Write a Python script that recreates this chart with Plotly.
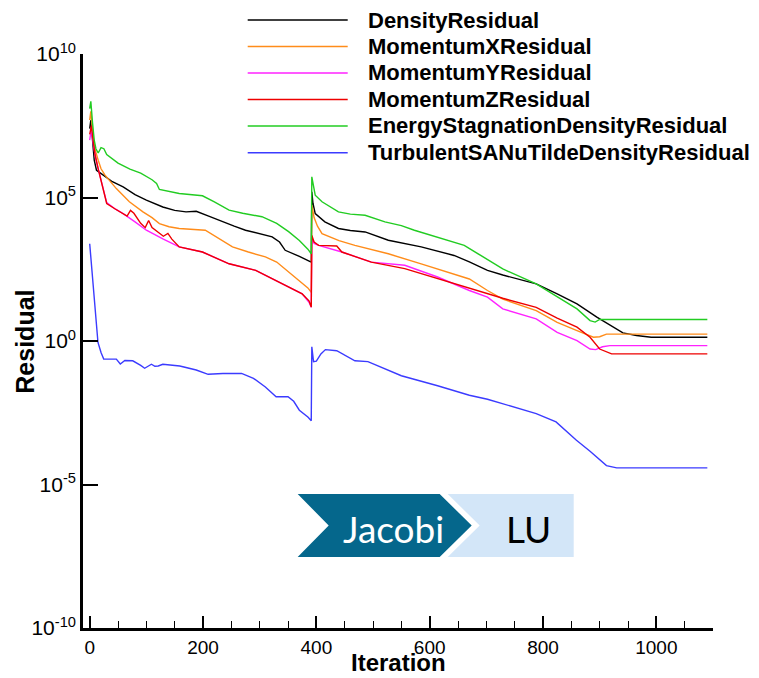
import plotly.graph_objects as go

# ---------------- data (iteration, log10 residual) ----------------
series_names = ["DensityResidual", "MomentumXResidual", "MomentumYResidual",
                "MomentumZResidual", "EnergyStagnationDensityResidual",
                "TurbulentSANuTildeDensityResidual"]
series_colors = ["#000000", "#ff8c1a", "#ff22ff", "#ee0000", "#22cc22", "#3b3bff"]

iter_density = [0, 2, 5, 8, 12, 18, 24, 40, 59, 80, 100, 129, 150, 170, 188, 210, 234, 255, 275, 300,
                322, 335, 345, 370, 391, 392, 394, 398, 415, 439, 460, 486, 527, 585, 643, 670, 702,
                729, 788, 825, 860, 895, 918, 941, 965, 991, 1090]
log_density = [7.4, 7.70, 7.0, 6.3, 5.95, 5.85, 5.78, 5.55, 5.37, 5.1, 4.91, 4.67, 4.55, 4.50, 4.52, 4.35,
               4.15, 4.0, 3.86, 3.75, 3.63, 3.45, 3.16, 2.95, 2.75, 5.20, 4.8, 4.44, 4.15, 3.92, 3.85,
               3.80, 3.51, 3.28, 2.98, 2.76, 2.46, 2.30, 1.99, 1.64, 1.29, 0.83, 0.54, 0.28, 0.19, 0.13, 0.13]

iter_momx = [0, 2, 5, 9, 15, 20, 27, 47, 70, 94, 110, 123, 140, 158, 204, 225, 252, 280, 310, 330, 351,
             370, 385, 391, 392, 396, 402, 410, 440, 468, 527, 585, 643, 670, 702, 729, 788, 825, 860,
             889, 900, 912, 1090]
log_momx = [7.7, 8.0, 7.3, 6.7, 6.30, 6.0, 5.78, 5.31, 4.85, 4.50, 4.3, 4.09, 3.98, 3.92, 3.86, 3.6,
            3.28, 3.1, 2.93, 2.75, 2.40, 2.1, 1.85, 1.70, 4.73, 4.3, 4.0, 3.74, 3.5, 3.33, 3.04, 2.69,
            2.34, 2.16, 1.76, 1.46, 1.06, 0.65, 0.36, 0.13, 0.15, 0.24, 0.24]

iter_momy = [0, 3, 6, 9.5, 15, 21, 30, 45, 59, 80, 100, 130, 158, 199, 246, 293, 340, 375, 387, 391,
             392, 396, 404, 445, 497, 556, 614, 670, 702, 729, 788, 825, 860, 883, 893, 905, 918, 1090]
log_momy = [7.0, 7.4, 6.9, 6.48, 6.0, 5.55, 4.82, 4.6, 4.44, 4.15, 3.86, 3.55, 3.28, 3.10, 2.69, 2.46,
            1.99, 1.64, 1.35, 1.18, 3.6, 3.4, 3.33, 3.10, 2.75, 2.64, 2.23, 1.76, 1.53, 1.12, 0.77,
            0.30, 0.01, -0.28, -0.30, -0.20, -0.16, -0.16]

iter_momz = [0, 3, 6, 9.5, 15, 21, 30, 45, 59, 66, 72, 78, 90, 98, 104, 110, 130, 138, 145, 158, 199,
             246, 293, 340, 375, 387, 391, 392, 396, 404, 430, 436, 445, 497, 556, 614, 673, 702, 729,
             788, 825, 860, 883, 900, 921, 1090]
log_momz = [7.2, 7.5, 7.0, 6.48, 6.0, 5.55, 4.79, 4.6, 4.44, 4.35, 4.55, 4.45, 4.1, 3.95, 4.2, 3.95,
            3.65, 3.75, 3.55, 3.28, 3.10, 2.69, 2.46, 1.99, 1.64, 1.4, 1.18, 3.68, 3.45, 3.33, 3.3,
            3.31, 3.10, 2.75, 2.52, 2.17, 1.82, 1.64, 1.49, 1.17, 0.80, 0.48, 0.13, -0.28, -0.45, -0.45]

iter_energy = [0, 2, 5, 8, 11, 15, 20, 25, 30, 50, 71, 90, 110, 118, 123, 140, 158, 199, 220, 246, 270,
               304, 330, 351, 370, 385, 391, 392, 394, 398, 410, 439, 460, 486, 521, 550, 573, 600, 632,
               661, 690, 729, 788, 835, 860, 883, 892, 900, 1090]
log_energy = [8.1, 8.35, 7.6, 7.0, 6.7, 6.55, 6.74, 6.7, 6.5, 6.2, 5.99, 5.85, 5.62, 5.49, 5.28, 5.2,
              5.14, 5.06, 4.85, 4.56, 4.45, 4.33, 4.1, 3.81, 3.5, 3.2, 3.04, 5.72, 5.5, 5.08, 4.85,
              4.50, 4.42, 4.38, 4.15, 4.02, 3.86, 3.7, 3.51, 3.33, 2.98, 2.51, 1.99, 1.41, 1.12, 0.71,
              0.66, 0.75, 0.75]

iter_turb = [0, 5, 10, 14.6, 20, 24.7, 47, 54, 62, 76, 90, 97, 109, 115, 121, 129, 159, 188, 209, 235,
             268, 289, 310, 329, 350, 360, 370, 385, 391, 392, 395, 400, 408, 416, 436, 450, 468, 491,
             550, 614, 670, 702, 729, 788, 823, 859, 883, 912, 930, 1090]
log_turb = [3.39, 2.2, 1.0, -0.05, -0.4, -0.63, -0.63, -0.80, -0.68, -0.69, -0.85, -0.95, -0.81, -0.88,
            -0.87, -0.81, -0.87, -1.01, -1.16, -1.13, -1.13, -1.30, -1.6, -1.94, -1.94, -2.1, -2.41,
            -2.65, -2.78, -0.20, -0.72, -0.70, -0.45, -0.30, -0.34, -0.5, -0.69, -0.72, -1.21, -1.56,
            -1.89, -2.03, -2.18, -2.53, -2.82, -3.46, -3.84, -4.34, -4.42, -4.42]

series_iters = [iter_density, iter_momx, iter_momy, iter_momz, iter_energy, iter_turb]
series_logs = [log_density, log_momx, log_momy, log_momz, log_energy, log_turb]

y_tickvals = [1e-10, 1e-5, 1e0, 1e5, 1e10]
y_ticktext = ["10<sup>-10</sup>", "10<sup>-5</sup>", "10<sup>0</sup>", "10<sup>5</sup>", "10<sup>10</sup>"]
x_tickvals = [0, 200, 400, 600, 800, 1000]

# ---------------- layout geometry (pixels) ----------------
W, H = 759, 678
L, R, T, B = 83.3, 713.3, 54, 628
FONT = "Liberation Sans, Arial, Helvetica, sans-serif"


def px(x):
    return (x - L) / (R - L)


def py(y):
    return (B - y) / (B - T)


fig = go.Figure()
for name, color, xs, ls in zip(series_names, series_colors, series_iters, series_logs):
    fig.add_trace(go.Scatter(x=xs, y=[10 ** v for v in ls], mode="lines", name=name,
                             line=dict(color=color, width=1.4), showlegend=False))

shapes = []
annotations = []

# manual legend
leg_rows = [20, 46.5, 73, 99.5, 126, 152.7]
for name, color, yy in zip(series_names, series_colors, leg_rows):
    shapes.append(dict(type="line", xref="paper", yref="paper", x0=px(248), x1=px(348),
                       y0=py(yy), y1=py(yy), line=dict(color=color, width=1.5)))
    annotations.append(dict(xref="paper", yref="paper", x=px(366), y=py(yy), xanchor="left",
                            yanchor="middle", text="<b>" + name + "</b>", showarrow=False,
                            font=dict(family=FONT, size=22, color="#000000")))

# Jacobi / LU chevrons
dark = [(298, 494), (440, 494), (472, 525.5), (440, 557), (298, 557), (329, 525.5)]
light = [(448, 494), (574, 494), (574, 557), (448, 557), (480, 525.5)]


def path(pts):
    return "M " + " L ".join(f"{px(a):.5f},{py(b):.5f}" for a, b in pts) + " Z"


shapes.append(dict(type="path", xref="paper", yref="paper", path=path(light),
                   fillcolor="#d3e6f8", line=dict(width=0), layer="above"))
shapes.append(dict(type="path", xref="paper", yref="paper", path=path(dark),
                   fillcolor="#05678c", line=dict(width=0), layer="above"))
annotations.append(dict(xref="paper", yref="paper", x=px(394), y=py(528), text="Jacobi",
                        showarrow=False, xanchor="center", yanchor="middle",
                        font=dict(family="Lato, Carlito, sans-serif", size=37, color="#ffffff")))
annotations.append(dict(xref="paper", yref="paper", x=px(529), y=py(528), text="LU",
                        showarrow=False, xanchor="center", yanchor="middle",
                        font=dict(family="Lato, Carlito, sans-serif", size=37, color="#000000")))

# axis titles
annotations.append(dict(xref="paper", yref="paper", x=px(399), y=py(678), text="<b>Iteration</b>",
                        showarrow=False, xanchor="center", yanchor="bottom",
                        font=dict(family=FONT, size=24, color="#000000")))
annotations.append(dict(xref="paper", yref="paper", x=px(25), y=py(342), text="<b>Residual</b>",
                        showarrow=False, xanchor="center", yanchor="middle", textangle=-90,
                        font=dict(family=FONT, size=25, color="#000000")))

fig.update_layout(
    width=W, height=H, autosize=False,
    margin=dict(l=L, r=W - R, t=T, b=H - B, pad=0),
    plot_bgcolor="#ffffff", paper_bgcolor="#ffffff",
    showlegend=False,
    shapes=shapes, annotations=annotations,
    font=dict(family=FONT, size=20, color="#000000"),
)
fig.update_xaxes(range=[-(90 - L) * (1100 / (R - 90)), 1100], tickvals=x_tickvals,
                 ticks="inside", ticklen=12, tickwidth=2, tickcolor="#000000",
                 showline=True, linecolor="#000000", linewidth=2.6, showgrid=False, zeroline=False,
                 tickfont=dict(family=FONT, size=19, color="#000000"),
                 minor=dict(dtick=50, tick0=0, ticks="inside", ticklen=7, tickwidth=1.4,
                            tickcolor="#000000", showgrid=False))
fig.update_yaxes(type="log", range=[-10, 10], tickvals=y_tickvals, ticktext=y_ticktext,
                 ticks="inside", ticklen=15, tickwidth=2.4, tickcolor="#000000",
                 showline=True, linecolor="#000000", linewidth=2.6, showgrid=False, zeroline=False,
                 tickfont=dict(family=FONT, size=21, color="#000000"))

fig.write_html("out.html")
